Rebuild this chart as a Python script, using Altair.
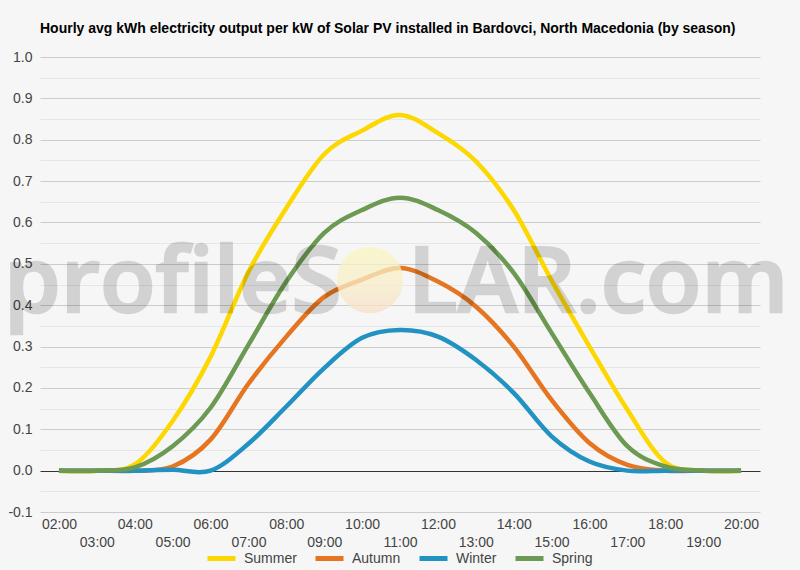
import altair as alt
import pandas as pd

# Hourly average output (kWh per kW installed) by season
hours = ["02:00", "03:00", "04:00", "05:00", "06:00", "07:00", "08:00", "09:00",
         "10:00", "11:00", "12:00", "13:00", "14:00", "15:00", "16:00", "17:00",
         "18:00", "19:00", "20:00"]
summer = [0.0, 0.0, 0.015, 0.12, 0.275, 0.48, 0.635, 0.765, 0.822, 0.86, 0.816,
          0.748, 0.63, 0.46, 0.30, 0.147, 0.02, 0.0, 0.0]
autumn = [0.0, 0.0, 0.0, 0.01, 0.075, 0.21, 0.324, 0.42, 0.462, 0.49, 0.457,
          0.397, 0.30, 0.171, 0.067, 0.014, 0.0, 0.0, 0.0]
winter = [0.0, 0.0, 0.0, 0.002, 0.0, 0.065, 0.155, 0.248, 0.321, 0.34, 0.324,
          0.268, 0.188, 0.083, 0.022, 0.0, 0.0, 0.0, 0.0]
spring = [0.0, 0.0, 0.008, 0.059, 0.152, 0.304, 0.457, 0.575, 0.63, 0.66, 0.63,
          0.575, 0.478, 0.333, 0.188, 0.059, 0.01, 0.0, 0.0]

seasons = ["Summer", "Autumn", "Winter", "Spring"]
season_colors = ["#fcd700", "#e57520", "#2192c2", "#6c9a52"]
series = {"Summer": summer, "Autumn": autumn, "Winter": winter, "Spring": spring}

rows = []
for order, name in enumerate(seasons):
    for h, v in zip(hours, series[name]):
        rows.append({"hour": h, "value": v, "season": name, "order": order})
df = pd.DataFrame(rows)

y_ticks = [round(-0.1 + 0.05 * i, 2) for i in range(23)]

FONT = "Liberation Sans"
BG = "#f6f6f6"
MAJOR = "abs(datum.value * 10 - round(datum.value * 10)) < 0.01"

lines = alt.Chart(df).mark_line(
    interpolate="cardinal", strokeWidth=4.5
).encode(
    x=alt.X(
        "hour:O",
        sort=hours,
        scale=alt.Scale(type="point", padding=0.5),
        axis=alt.Axis(
            title=None, labelAngle=0, domain=False, ticks=False, grid=False,
            labelOverlap=False, labelFontSize=14, labelColor="#444444",
            labelFont=FONT, labelPadding=5, labelLineHeight=18,
            labelExpr="toNumber(slice(datum.value, 0, 2)) % 2 ? ['', datum.value] : datum.value",
        ),
    ),
    y=alt.Y(
        "value:Q",
        scale=alt.Scale(domain=[-0.1, 1.0], nice=False, zero=False),
        axis=alt.Axis(
            title=None, values=y_ticks, domain=False, ticks=False,
            labelFontSize=14, labelColor="#444444", labelFont=FONT,
            labelPadding=8,
            labelExpr=MAJOR + " ? (datum.value < 0 ? '-' + format(-datum.value, '.1f') : format(datum.value, '.1f')) : ''",
            gridColor={
                "condition": [
                    {"test": "abs(datum.value) < 0.001", "value": "#333333"},
                    {"test": MAJOR, "value": "#cccccc"},
                ],
                "value": "#e6e6e6",
            },
            gridWidth=1,
        ),
    ),
    color=alt.Color(
        "season:N",
        scale=alt.Scale(domain=seasons, range=season_colors),
        legend=alt.Legend(
            title=None, orient="none", direction="horizontal",
            legendX=165, legendY=485, gridAlign="none",
            symbolType="stroke", symbolSize=784, symbolStrokeWidth=5,
            labelFontSize=14, labelFont=FONT, labelColor="#444444",
            labelOffset=6, columnPadding=8,
        ),
    ),
    order=alt.Order("order:Q"),
)

# profileSOLAR watermark drawn over the plot
one = pd.DataFrame({"k": [0]})
WM = dict(font="Open Sans", fontSize=91, fontWeight=600, align="left",
          baseline="alphabetic", color="#000000", stroke="#000000",
          strokeWidth=2.5, opacity=0.14)
mark_a = alt.Chart(one).mark_text(text="profileS", **WM).encode(
    x=alt.value(-36), y=alt.value(255))
mark_b = alt.Chart(one).mark_text(text="LAR.com", **WM).encode(
    x=alt.value(368), y=alt.value(255))
sun = alt.Chart(one).mark_circle(
    size=4400, opacity=0.75,
    fill=alt.LinearGradient(
        gradient="linear", x1=0, y1=0, x2=0, y2=1,
        stops=[alt.GradientStop(color="#f8f6c0", offset=0),
               alt.GradientStop(color="#f8eec8", offset=0.55),
               alt.GradientStop(color="#f7dfc8", offset=1)],
    ),
).encode(x=alt.value(330), y=alt.value(223))

chart = alt.layer(lines, mark_a, mark_b, sun).properties(
    width=720,
    height=455,
    title=alt.TitleParams(
        text="Hourly avg kWh electricity output per kW of Solar PV installed in Bardovci, North Macedonia (by season)",
        anchor="start", frame="group", fontSize=14, fontWeight="bold", font=FONT,
        color="#000000", offset=14,
    ),
    padding={"left": 40, "top": 57, "right": 40, "bottom": 58},
    autosize="none",
    background=BG,
).configure_view(stroke=None)

chart.save("out.html", embed_options={"renderer": "svg", "actions": False})
